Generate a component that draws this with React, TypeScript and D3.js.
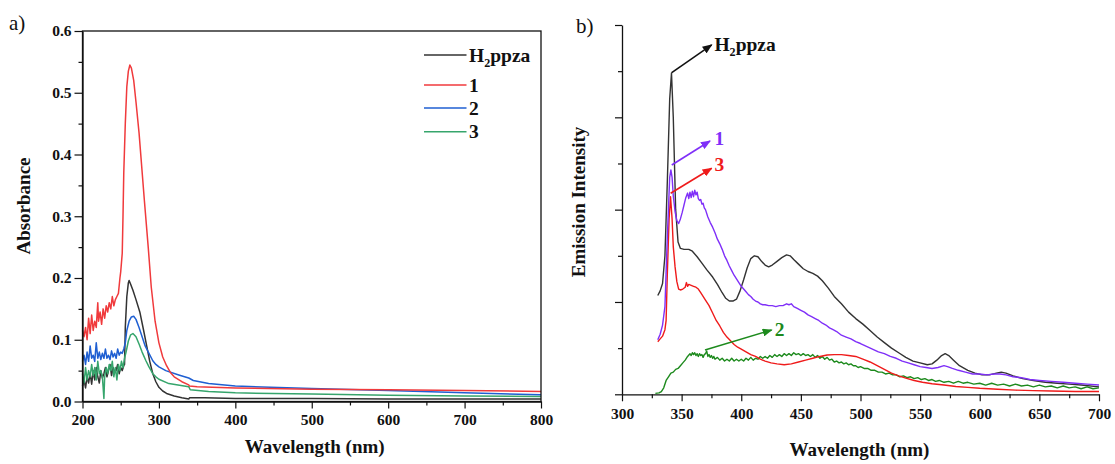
import React, { useEffect, useRef } from "react";
import * as d3 from "d3";

type Pt = [number, number];

// ---------- Panel a) UV-vis absorbance ----------
const uvH2ppza: Pt[] = [
  [200, 0.025], [202, 0.035], [204, 0.022], [206, 0.04], [208, 0.03], [210, 0.045], [212, 0.028],
  [214, 0.05], [216, 0.035], [218, 0.055], [220, 0.04], [222, 0.03], [224, 0.05], [226, 0.038],
  [228, 0.045], [230, 0.055], [232, 0.04], [234, 0.05], [236, 0.06], [238, 0.042], [240, 0.055],
  [242, 0.048], [244, 0.05], [246, 0.06], [248, 0.045], [250, 0.055], [252, 0.05], [254, 0.058],
  [255, 0.06], [256, 0.12], [258, 0.17], [260, 0.192], [261, 0.196], [263, 0.19], [266, 0.18],
  [270, 0.165], [275, 0.145], [280, 0.115], [284, 0.09], [288, 0.065], [292, 0.045], [296, 0.032],
  [300, 0.023], [305, 0.017], [310, 0.013], [320, 0.009], [330, 0.006], [339, 0.004], [340, 0.006],
  [360, 0.006], [400, 0.005], [500, 0.005], [600, 0.004], [700, 0.004], [800, 0.004],
];
const uv1: Pt[] = [
  [200, 0.115], [202, 0.105], [204, 0.12], [206, 0.1], [208, 0.135], [210, 0.11], [212, 0.14],
  [214, 0.115], [216, 0.13], [218, 0.12], [220, 0.16], [221, 0.13], [223, 0.145], [225, 0.125],
  [227, 0.15], [229, 0.135], [231, 0.155], [233, 0.145], [235, 0.16], [237, 0.15], [239, 0.17],
  [241, 0.155], [243, 0.165], [245, 0.17], [247, 0.175], [249, 0.2], [250, 0.21], [252, 0.24],
  [253, 0.3], [254, 0.37], [256, 0.45], [258, 0.51], [260, 0.535], [262, 0.545], [264, 0.54],
  [267, 0.52], [270, 0.485], [274, 0.435], [281, 0.325], [286, 0.25], [290, 0.185], [295, 0.13],
  [300, 0.095], [305, 0.072], [310, 0.058], [315, 0.047], [320, 0.04], [330, 0.032], [339, 0.027],
  [340, 0.025], [350, 0.024], [370, 0.023], [400, 0.022], [500, 0.02], [600, 0.019], [700, 0.018],
  [800, 0.016],
];
const uv2: Pt[] = [
  [200, 0.065], [202, 0.075], [204, 0.06], [206, 0.08], [208, 0.065], [210, 0.09], [212, 0.07],
  [214, 0.075], [216, 0.065], [218, 0.095], [220, 0.07], [222, 0.08], [224, 0.068], [226, 0.078],
  [228, 0.07], [230, 0.085], [232, 0.07], [234, 0.075], [236, 0.068], [238, 0.082], [240, 0.072],
  [242, 0.078], [244, 0.07], [246, 0.085], [248, 0.075], [250, 0.08], [252, 0.078], [254, 0.085],
  [256, 0.095], [258, 0.115], [261, 0.13], [264, 0.137], [267, 0.138], [270, 0.133], [274, 0.12],
  [278, 0.105], [282, 0.09], [287, 0.078], [292, 0.066], [296, 0.06], [300, 0.056], [309, 0.05],
  [326, 0.043], [339, 0.038], [345, 0.034], [365, 0.029], [400, 0.025], [500, 0.021], [600, 0.018],
  [700, 0.014], [800, 0.011],
];
const uv3: Pt[] = [
  [200, 0.045], [202, 0.03], [204, 0.055], [206, 0.035], [208, 0.05], [210, 0.04], [212, 0.06],
  [214, 0.042], [216, 0.055], [218, 0.035], [220, 0.065], [222, 0.045], [224, 0.05], [226, 0.04],
  [228, 0.005], [229, 0.04], [231, 0.055], [233, 0.045], [235, 0.06], [237, 0.05], [239, 0.065],
  [241, 0.04], [243, 0.055], [245, 0.035], [247, 0.06], [249, 0.05], [251, 0.065], [253, 0.055],
  [255, 0.07], [257, 0.08], [260, 0.098], [263, 0.108], [266, 0.11], [270, 0.105], [274, 0.093],
  [278, 0.08], [283, 0.066], [287, 0.056], [292, 0.045], [296, 0.04], [300, 0.036], [313, 0.029],
  [339, 0.024], [341, 0.019], [365, 0.016], [400, 0.014], [500, 0.012], [600, 0.01], [700, 0.009],
  [800, 0.008],
];
const uvNames = ["H2ppza", "1", "2", "3"];
const uvColors = ["#333333", "#f03a3c", "#1f5fd2", "#36a56c"];
const uvXTicks = [200, 300, 400, 500, 600, 700, 800];
const uvXMinor = [250, 350, 450, 550, 650, 750];
const uvYTicks = [0, 0.1, 0.2, 0.3, 0.4, 0.5, 0.6];
const uvYMinor = [0.05, 0.15, 0.25, 0.35, 0.45, 0.55];

// ---------- Panel b) emission ----------
const emH2ppza: Pt[] = [
  [330, 107], [332, 112], [334, 120], [336, 150], [338, 230], [340, 320], [341.5, 348], [343, 300],
  [345, 200], [347, 165], [349, 158], [352, 157], [356, 157], [359, 155], [363, 149], [367, 142],
  [371, 135], [376, 127], [380, 119], [384, 110], [387, 104], [390, 101], [393, 101], [396, 103],
  [399, 112], [402, 124], [405, 137], [408, 147], [411, 150], [414, 149], [417, 144], [420, 140],
  [423, 138], [426, 140], [430, 144], [434, 148], [438, 151], [441, 150], [444, 146], [448, 141],
  [452, 136], [456, 133], [460, 131], [464, 128], [468, 123], [473, 115], [478, 106], [484, 98],
  [490, 89], [496, 82], [502, 76], [508, 69], [514, 62], [520, 56], [526, 50], [532, 45], [538, 40],
  [544, 36], [550, 34], [556, 32], [560, 33], [564, 37], [568, 42], [571, 44], [574, 42], [578, 37],
  [583, 31], [590, 26], [596, 23], [602, 21], [608, 21], [614, 23], [618, 24], [622, 23], [628, 20],
  [636, 17], [645, 15], [655, 13], [665, 12], [675, 11], [685, 10], [700, 8],
];
const em1: Pt[] = [
  [330, 59], [332, 65], [334, 75], [336, 95], [338, 170], [340, 235], [341, 243], [342, 235],
  [343, 215], [344.5, 198], [346, 188], [347.5, 185], [349, 190], [350.5, 197], [352, 205],
  [353.5, 213], [355, 218], [356, 212], [357, 219], [358, 213], [359, 220], [360, 214], [361, 221],
  [362, 216], [363, 219], [364, 212], [365, 210], [366, 211], [367, 206], [368, 207], [369, 202],
  [370, 200], [372, 192], [374, 186], [376, 181], [378, 175], [380, 168], [382, 163], [384, 157],
  [386, 150], [388, 145], [390, 139], [392, 134], [394, 129], [396, 125], [398, 121], [400, 117],
  [402, 114], [404, 111], [406, 108], [408, 106], [410, 103], [412, 101], [414, 100], [416, 98],
  [418, 97], [420, 97], [423, 96], [426, 96], [429, 95], [432, 96], [435, 96], [438, 98], [440, 97],
  [442, 98], [444, 95], [447, 93], [450, 91], [453, 89], [456, 86], [459, 84], [462, 82], [465, 80],
  [468, 77], [471, 75], [474, 72], [477, 70], [480, 68], [484, 64], [488, 62], [492, 60], [496, 57],
  [500, 55], [505, 52], [510, 49], [515, 46], [520, 44], [525, 41], [530, 39], [535, 36], [540, 34],
  [545, 32], [550, 30], [555, 29], [560, 28], [565, 29], [570, 31], [573, 30], [577, 28], [582, 26],
  [588, 24], [594, 22], [600, 22], [606, 21], [612, 22], [617, 22], [622, 21], [628, 19], [635, 18],
  [642, 16], [650, 15], [660, 14], [670, 13], [680, 12], [690, 11], [700, 10],
];
const em2: Pt[] = [
  [328, 1], [331, 1.5], [333, 3], [335, 7], [337, 15], [339, 19], [341, 23], [343, 24], [345, 27],
  [347, 28], [349, 31], [351, 34], [353, 37], [355, 41], [357, 44], [358, 42], [359, 45], [360, 43],
  [361, 45], [362, 42], [363, 44], [364, 41], [365, 44], [366, 42], [367, 43], [368, 40], [369, 43],
  [370, 44], [371, 47], [372, 41], [373, 43], [374, 40], [375, 42], [376, 39], [377, 41], [378, 38],
  [380, 40], [382, 37], [384, 39], [386, 36], [388, 38], [390, 36], [392, 39], [394, 36], [396, 38],
  [398, 36], [400, 38], [402, 36], [404, 39], [406, 37], [408, 40], [410, 37], [412, 39], [414, 38],
  [416, 41], [418, 39], [420, 41], [422, 39], [424, 42], [426, 40], [428, 43], [430, 41], [432, 43],
  [434, 41], [436, 44], [438, 42], [440, 44], [442, 42], [444, 45], [446, 43], [448, 44], [450, 42],
  [452, 44], [454, 42], [456, 43], [458, 41], [460, 43], [462, 40], [464, 42], [466, 39], [468, 41],
  [470, 38], [472, 40], [474, 37], [476, 38], [478, 35], [480, 36], [482, 34], [484, 35], [486, 33],
  [488, 34], [490, 32], [492, 33], [494, 31], [496, 31], [498, 29], [500, 30], [503, 28], [506, 28],
  [509, 26], [512, 26], [515, 24], [518, 24], [521, 22], [524, 23], [527, 21], [530, 21], [533, 19],
  [536, 20], [539, 18], [542, 19], [545, 17], [548, 18], [551, 16], [554, 17], [557, 15], [560, 16],
  [563, 14], [566, 15], [570, 13], [574, 14], [578, 12], [582, 14], [586, 12], [590, 13], [595, 11],
  [600, 12], [605, 10], [610, 12], [615, 10], [620, 11], [625, 9], [630, 11], [635, 9], [640, 10],
  [645, 8], [650, 10], [655, 8], [660, 9], [665, 7], [670, 9], [675, 7], [680, 8], [685, 6],
  [690, 8], [695, 6], [700, 7],
];
const em3: Pt[] = [
  [330, 57], [332, 60], [334, 63], [336, 70], [337, 80], [338, 130], [339.5, 190], [340.7, 214],
  [342, 190], [343, 160], [344.5, 138], [346, 122], [347.5, 114], [349, 113], [351, 114], [353, 116],
  [354, 121], [355, 117], [356, 119], [358, 118], [360, 117], [362, 116], [364, 114], [366, 110],
  [368, 106], [370, 102], [373, 96], [376, 88], [379, 80], [382, 74], [385, 67], [388, 62], [391, 58],
  [394, 54], [397, 51], [400, 49], [404, 46], [408, 43], [412, 41], [416, 38], [420, 36], [425, 34],
  [430, 33], [436, 32], [442, 33], [448, 35], [454, 37], [460, 39], [466, 41], [472, 42.5], [478, 43],
  [484, 43], [490, 42], [496, 41], [502, 38], [508, 35], [514, 31], [520, 27], [526, 23], [532, 20],
  [538, 17.5], [545, 15], [552, 13], [560, 11.5], [570, 10], [580, 8.5], [590, 7.5], [600, 6.5],
  [615, 5.5], [630, 4.5], [645, 4], [660, 3.5], [680, 3], [700, 3],
];
const emNames = ["H2ppza", "1", "2", "3"];
const emColors = ["#333333", "#7f2ff8", "#1d8a1d", "#ef1b1b"];
const emXTicks = [300, 350, 400, 450, 500, 550, 600, 650, 700];
const emXMinor = [325, 375, 425, 475, 525, 575, 625, 675];
const emYTicks = [0, 100, 200, 300, 400];
const emYMinor = [50, 150, 250, 350];
// annotation arrows: [fromX, fromY, toX, toY, labelX, labelY] in data units
const emArrows: number[][] = [
  [341.7, 348.4, 375.2, 378.4, 377.5, 378.5],
  [341.7, 248.4, 373.8, 274.4, 377.5, 277.3],
  [369.6, 48, 425.5, 69.7, 428, 70.4],
  [340.8, 217.8, 375.2, 244.8, 377.5, 248.4],
];

const FONT = "'Liberation Serif', 'Times New Roman', serif";

export default function App() {
  const ref = useRef<SVGSVGElement>(null);

  useEffect(() => {
    const svg = d3.select(ref.current);
    svg.selectAll("*").remove();

    const styleAxis = (g: any, fontSize: number) => {
      g.selectAll("text")
        .attr("font-family", FONT)
        .attr("font-weight", "bold")
        .attr("font-size", fontSize)
        .attr("fill", "#111");
      g.selectAll("line").attr("stroke", "#111").attr("stroke-width", 1.2);
      g.selectAll("path").attr("stroke", "#111").attr("stroke-width", 1.3);
    };

    const subLabel = (g: any, x: number, y: number, name: string, color: string, size: number) => {
      const t = g
        .append("text")
        .attr("x", x)
        .attr("y", y)
        .attr("font-family", FONT)
        .attr("font-weight", "bold")
        .attr("font-size", size)
        .attr("fill", color);
      if (name === "H2ppza") {
        t.append("tspan").text("H");
        t.append("tspan").attr("font-size", size * 0.62).attr("dy", 5).text("2");
        t.append("tspan").attr("dy", -5).text("ppza");
      } else {
        t.text(name);
      }
    };

    // ================= Panel a =================
    const xA = d3.scaleLinear().domain([200, 800]).range([82.5, 541]);
    const yA = d3.scaleLinear().domain([0, 0.6]).range([401.5, 31]);
    const gA = svg.append("g");

    const lineA = d3
      .line<Pt>()
      .x((d) => xA(d[0]))
      .y((d) => yA(d[1]));
    const uvData = [uvH2ppza, uv1, uv2, uv3];
    [0, 3, 2, 1].forEach((i) => {
      gA.append("path")
        .datum(uvData[i])
        .attr("d", lineA)
        .attr("fill", "none")
        .attr("stroke", uvColors[i])
        .attr("stroke-width", 1.5)
        .attr("stroke-linejoin", "round");
    });

    gA.append("rect")
      .attr("x", xA(200))
      .attr("y", yA(0.6))
      .attr("width", xA(800) - xA(200))
      .attr("height", yA(0) - yA(0.6))
      .attr("fill", "none")
      .attr("stroke", "#111")
      .attr("stroke-width", 1.3);

    const axA = gA
      .append("g")
      .attr("transform", `translate(0,${yA(0)})`)
      .call(d3.axisBottom(xA).tickValues(uvXTicks).tickSize(7).tickSizeOuter(0).tickPadding(5).tickFormat(d3.format("d")));
    styleAxis(axA, 15.5);
    const axAm = gA
      .append("g")
      .attr("transform", `translate(0,${yA(0)})`)
      .call(d3.axisBottom(xA).tickValues(uvXMinor).tickSize(4).tickSizeOuter(0).tickFormat(() => ""));
    styleAxis(axAm, 15);
    axAm.select(".domain").remove();

    const ayA = gA
      .append("g")
      .attr("transform", `translate(${xA(200)},0)`)
      .call(d3.axisLeft(yA).tickValues(uvYTicks).tickSize(8).tickSizeOuter(0).tickPadding(3).tickFormat(d3.format(".1f")));
    styleAxis(ayA, 15.5);
    const ayAm = gA
      .append("g")
      .attr("transform", `translate(${xA(200)},0)`)
      .call(d3.axisLeft(yA).tickValues(uvYMinor).tickSize(4).tickSizeOuter(0).tickFormat(() => ""));
    styleAxis(ayAm, 15);
    ayAm.select(".domain").remove();

    gA.append("text")
      .attr("x", (xA(200) + xA(800)) / 2 + 3)
      .attr("y", 453)
      .attr("text-anchor", "middle")
      .attr("font-family", FONT)
      .attr("font-weight", "bold")
      .attr("font-size", 19)
      .attr("fill", "#111")
      .text("Wavelength (nm)");
    gA.append("text")
      .attr("transform", `translate(29.5,206) rotate(-90)`)
      .attr("text-anchor", "middle")
      .attr("font-family", FONT)
      .attr("font-weight", "bold")
      .attr("font-size", 19)
      .attr("fill", "#111")
      .text("Absorbance");
    gA.append("text")
      .attr("x", 9)
      .attr("y", 30)
      .attr("font-family", FONT)
      .attr("font-size", 21)
      .attr("fill", "#111")
      .text("a)");

    const legRows = [55, 85, 108, 131.7];
    uvNames.forEach((n, i) => {
      gA.append("line")
        .attr("x1", 424)
        .attr("x2", 466.5)
        .attr("y1", legRows[i])
        .attr("y2", legRows[i])
        .attr("stroke", uvColors[i])
        .attr("stroke-width", 1.6);
      subLabel(gA, 469, legRows[i] + 6.5, n, "#111", 19.5);
    });

    // ================= Panel b =================
    const xE = d3.scaleLinear().domain([300, 700]).range([622, 1099]);
    const yE = d3.scaleLinear().domain([0, 400]).range([394.3, 25]);
    const gE = svg.append("g");
    const lineE = d3
      .line<Pt>()
      .x((d) => xE(d[0]))
      .y((d) => yE(d[1]));
    const emData = [emH2ppza, em1, em2, em3];
    [0, 2, 3, 1].forEach((i) => {
      gE.append("path")
        .datum(emData[i])
        .attr("d", lineE)
        .attr("fill", "none")
        .attr("stroke", emColors[i])
        .attr("stroke-width", 1.4)
        .attr("stroke-linejoin", "round");
    });

    const axE = gE
      .append("g")
      .attr("transform", `translate(0,${yE(0)})`)
      .call(d3.axisBottom(xE).tickValues(emXTicks).tickSize(7).tickSizeOuter(0).tickPadding(7).tickFormat(d3.format("d")));
    styleAxis(axE, 15.5);
    const axEm = gE
      .append("g")
      .attr("transform", `translate(0,${yE(0)})`)
      .call(d3.axisBottom(xE).tickValues(emXMinor).tickSize(4).tickSizeOuter(0).tickFormat(() => ""));
    styleAxis(axEm, 15);
    axEm.select(".domain").remove();
    const ayE = gE
      .append("g")
      .attr("transform", `translate(${xE(300)},0)`)
      .call(d3.axisLeft(yE).tickValues(emYTicks).tickSize(7).tickSizeOuter(0).tickFormat(() => ""));
    styleAxis(ayE, 15);
    const ayEm = gE
      .append("g")
      .attr("transform", `translate(${xE(300)},0)`)
      .call(d3.axisLeft(yE).tickValues(emYMinor).tickSize(4).tickSizeOuter(0).tickFormat(() => ""));
    styleAxis(ayEm, 15);
    ayEm.select(".domain").remove();

    gE.append("text")
      .attr("x", (xE(300) + xE(700)) / 2 - 1)
      .attr("y", 456)
      .attr("text-anchor", "middle")
      .attr("font-family", FONT)
      .attr("font-weight", "bold")
      .attr("font-size", 19)
      .attr("fill", "#111")
      .text("Wavelength (nm)");
    gE.append("text")
      .attr("transform", `translate(585,202) rotate(-90)`)
      .attr("text-anchor", "middle")
      .attr("font-family", FONT)
      .attr("font-weight", "bold")
      .attr("font-size", 19)
      .attr("fill", "#111")
      .text("Emission Intensity");
    gE.append("text")
      .attr("x", 576)
      .attr("y", 33)
      .attr("font-family", FONT)
      .attr("font-size", 21)
      .attr("fill", "#111")
      .text("b)");

    const defs = svg.append("defs");
    emColors.forEach((c, i) => {
      defs
        .append("marker")
        .attr("id", `arr${i}`)
        .attr("viewBox", "0 0 10 8")
        .attr("refX", 9)
        .attr("refY", 4)
        .attr("markerWidth", 10)
        .attr("markerHeight", 8)
        .attr("markerUnits", "userSpaceOnUse")
        .attr("orient", "auto")
        .append("path")
        .attr("d", "M0,0 L10,4 L0,8 Z")
        .attr("fill", c === "#333333" ? "#111" : c);
    });
    emArrows.forEach((a, i) => {
      const col = i === 0 ? "#111" : emColors[i];
      gE.append("line")
        .attr("x1", xE(a[0]))
        .attr("y1", yE(a[1]))
        .attr("x2", xE(a[2]))
        .attr("y2", yE(a[3]))
        .attr("stroke", col)
        .attr("stroke-width", 1.6)
        .attr("marker-end", `url(#arr${i})`);
      subLabel(gE, xE(a[4]), yE(a[5]) + 6.5, emNames[i], col, 19.5);
    });
  }, []);

  return (
    <svg
      ref={ref}
      width={1115}
      height={464}
      style={{ position: "absolute", left: 0, top: 0, background: "#fff" }}
    />
  );
}
